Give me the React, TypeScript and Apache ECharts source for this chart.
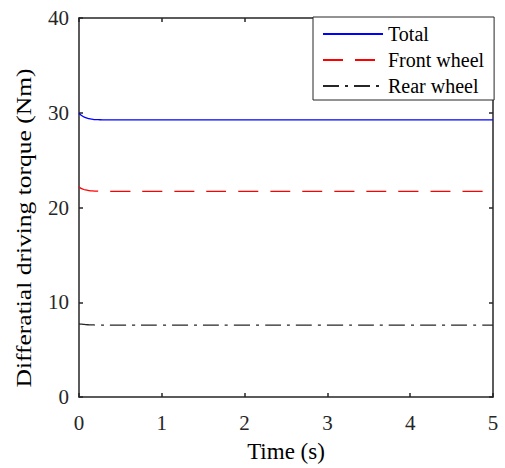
import React, { useEffect, useRef } from "react";
import * as echarts from "echarts";

const timeS = [0, 0.02, 0.05, 0.08, 0.12, 0.16, 0.2, 0.25, 0.3, 0.4, 0.5, 1, 2, 3, 4, 5];
const totalTorque = [29.95, 29.78, 29.6, 29.48, 29.38, 29.32, 29.28, 29.26, 29.25, 29.24, 29.24, 29.24, 29.24, 29.24, 29.24, 29.24];
const frontTorque = [22.15, 22.05, 21.93, 21.85, 21.79, 21.75, 21.73, 21.72, 21.71, 21.7, 21.7, 21.7, 21.7, 21.7, 21.7, 21.7];
const rearTorque = [7.72, 7.7, 7.67, 7.64, 7.62, 7.61, 7.6, 7.6, 7.59, 7.59, 7.59, 7.59, 7.59, 7.59, 7.59, 7.59];
const seriesNames = ["Total", "Front wheel", "Rear wheel"];
const xTicks = [0, 1, 2, 3, 4, 5];
const yTicks = [0, 10, 20, 30, 40];
const yTitle = "Differatial driving torque (Nm)";
const xTitle = "Time (s)";

const FONT = "'Liberation Serif', 'Times New Roman', serif";
const AX = "#262626";

export default function App() {
  const ref = useRef<HTMLDivElement>(null);
  useEffect(() => {
    if (!ref.current) return;
    const chart = echarts.init(ref.current, undefined, { renderer: "svg" });
    const pair = (ys: number[]) => timeS.map((t, i) => [t, ys[i]]);
    const axisCommon = {
      axisLine: { show: true, onZero: false, lineStyle: { color: AX, width: 1.5 } },
      axisTick: { show: true, inside: true, length: 4, lineStyle: { color: AX, width: 1.5 } },
      splitLine: { show: false },
    };
    chart.setOption({
      animation: false,
      backgroundColor: "#ffffff",
      textStyle: { fontFamily: FONT },
      grid: { left: 79, top: 18, right: 12, bottom: 66, containLabel: false },
      legend: {
        data: seriesNames,
        orient: "vertical",
        left: 313,
        top: 17,
        padding: [7, 10, 4, 9],
        itemWidth: 60,
        itemHeight: 14,
        itemGap: 6,
        backgroundColor: "#ffffff",
        borderColor: AX,
        borderWidth: 1,
        itemStyle: { opacity: 0 },
        textStyle: { fontFamily: FONT, fontSize: 20, color: "#000000", padding: [0, 0, 0, 0] },
      },
      graphic: [
        {
          type: "text",
          x: 24,
          y: 228,
          rotation: Math.PI / 2,
          scaleX: 1.16,
          scaleY: 1,
          style: {
            text: yTitle,
            fontFamily: FONT,
            fontSize: 22,
            fill: "#000000",
            align: "center",
            verticalAlign: "middle",
          },
        },
      ],
      xAxis: [
        {
          type: "value",
          min: 0,
          max: 5,
          interval: 1,
          position: "bottom",
          name: xTitle,
          nameLocation: "middle",
          nameGap: 43,
          nameTextStyle: { fontFamily: FONT, fontSize: 23, color: "#000000" },
          axisLabel: { fontFamily: FONT, fontSize: 21, color: AX, margin: 15, formatter: (v: number) => (xTicks.includes(v) ? String(v) : "") },
          ...axisCommon,
        },
        {
          type: "value",
          min: 0,
          max: 5,
          interval: 1,
          position: "top",
          axisLabel: { show: false },
          ...axisCommon,
        },
      ],
      yAxis: [
        {
          type: "value",
          min: 0,
          max: 40,
          interval: 10,
          position: "left",
          axisLabel: { fontFamily: FONT, fontSize: 21, color: AX, margin: 10, formatter: (v: number) => (yTicks.includes(v) ? String(v) : "") },
          ...axisCommon,
        },
        {
          type: "value",
          min: 0,
          max: 40,
          interval: 10,
          position: "right",
          axisLabel: { show: false },
          ...axisCommon,
        },
      ],
      series: [
        {
          name: seriesNames[0],
          type: "line",
          data: pair(totalTorque),
          showSymbol: false,
          symbol: "none",
          smooth: true,
          lineStyle: { color: "#0000ff", width: 1.3, type: "solid" },
          itemStyle: { color: "#0000ff" },
        },
        {
          name: seriesNames[1],
          type: "line",
          data: pair(frontTorque),
          showSymbol: false,
          symbol: "none",
          smooth: true,
          lineStyle: { color: "#ff0000", width: 1.3, type: [20, 12] },
          itemStyle: { color: "#ff0000" },
        },
        {
          name: seriesNames[2],
          type: "line",
          data: pair(rearTorque),
          showSymbol: false,
          symbol: "none",
          smooth: true,
          lineStyle: { color: "#262626", width: 1.3, type: [16, 6, 3, 6] },
          itemStyle: { color: "#262626" },
        },
      ],
    });
    return () => chart.dispose();
  }, []);
  return <div ref={ref} style={{ width: 505, height: 468, position: "fixed", left: 0, top: 0 }} />;
}
